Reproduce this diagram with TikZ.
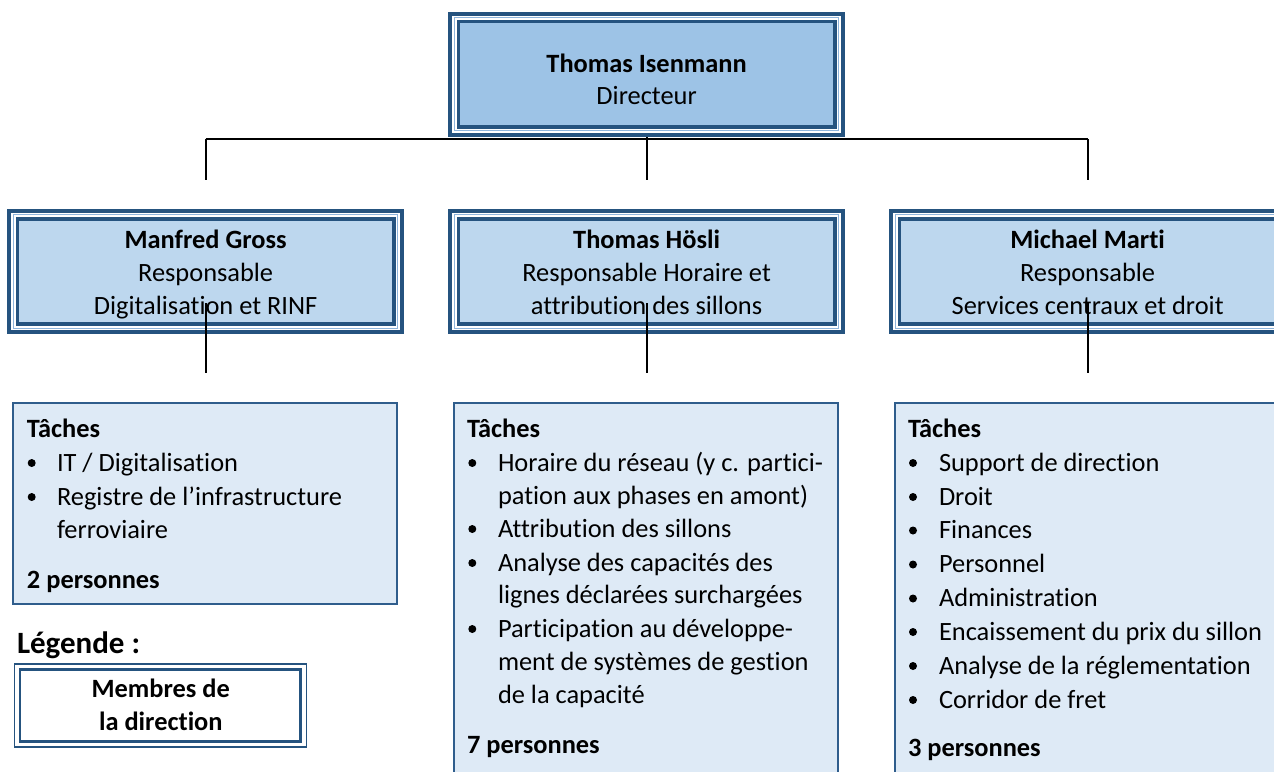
\documentclass[tikz,border=0pt]{standalone}
\usepackage{fontspec}
\setmainfont{Carlito}[Ligatures=NoCommon]
\definecolor{dk}{HTML}{25537F}
\definecolor{dk2}{HTML}{2F5D8C}
\definecolor{topfill}{HTML}{9DC3E6}
\definecolor{midfill}{HTML}{BDD7EE}
\definecolor{taskfill}{HTML}{DEEAF6}
\definecolor{thinlt}{HTML}{8EB4DB}
\tikzset{
  conn/.style={draw=black, line width=2.2pt},
  mbox/.style={rectangle, draw=dk, line width=4pt, fill=white, inner sep=0pt, outer sep=0pt,
    minimum width=392.7pt, minimum height=121.3pt},
  thinline/.style={draw=thinlt, line width=1pt},
  innerband/.style={draw=dk, line width=3.5pt},
  taskbox/.style={rectangle, draw=dk2, line width=2.2pt, fill=taskfill, inner sep=0pt, outer sep=0pt,
    minimum width=384pt},
  legbox/.style={rectangle, draw=dk, line width=1.5pt, fill=white, inner sep=0pt, outer sep=0pt,
    minimum width=292pt, minimum height=83pt},
  ctxt/.style={inner sep=0pt, outer sep=0pt, anchor=base},
  ltxt/.style={inner sep=0pt, outer sep=0pt, anchor=base west},
  bul/.style={circle, fill=black, draw=none, inner sep=0pt, minimum size=8pt},
}
\newcommand\mgrbox[3]{%
  \node[mbox] (#1) at (#2) {};
  \draw[thinline] ([shift={(4.1,4.1)}]#1.north west) rectangle ([shift={(-4.1,-4.1)}]#1.south east);
  \draw[innerband, fill=#3] ([shift={(8,8)}]#1.north west) rectangle ([shift={(-8,-8)}]#1.south east);
}
\begin{document}
\begin{tikzpicture}[x=1pt, y=-1pt, font=\fontsize{26.4}{32}\selectfont]
\useasboundingbox (0,0) rectangle (1274,771);
\clip (0,0) rectangle (1274,771);

% connector coordinates
\coordinate (hline) at (0,139);
\coordinate (vend) at (0,180);
\coordinate (dtop) at (0,303);
\coordinate (dbot) at (0,373);

% boxes
\mgrbox{boss}{646.6,74.35}{topfill}
\mgrbox{m1}{205.65,271.5}{midfill}
\mgrbox{m2}{646.6,271.5}{midfill}
\mgrbox{m3}{1087.6,271.5}{midfill}

% connectors top
\draw[conn] (m1.center |- hline) -- (m3.center |- hline);
\draw[conn] (boss.south) ++(0,2) -- (boss.south |- vend);
\draw[conn] (m1.center |- hline) -- (m1.center |- vend);
\draw[conn] (m3.center |- hline) -- (m3.center |- vend);

% task boxes
\node[taskbox, minimum height=201pt] (t1) at (205,503.5) {};
\node[taskbox, minimum height=400pt] (t2) at (646,603) {};
\node[taskbox, minimum height=400pt] (t3) at (1087,603) {};

% texts top
\node[ctxt] (bossname) at (646.6,72) {\bfseries Thomas Isenmann};
\node[ctxt] (bossrole) at (646.6,104) {Directeur};

\node[ctxt] (m1a) at (205.65,248) {\bfseries Manfred Gross};
\node[ctxt] (m1b) at (205.65,281) {Responsable};
\node[ctxt] (m1c) at (205.65,314) {Digitalisation et RINF};

\node[ctxt] (m2a) at (646.6,248) {\bfseries Thomas Hösli};
\node[ctxt] (m2b) at (646.6,281) {Responsable Horaire et};
\node[ctxt] (m2c) at (646.6,314) {attribution des sillons};

\node[ctxt] (m3a) at (1087.6,248) {\bfseries Michael Marti};
\node[ctxt] (m3b) at (1087.6,281) {Responsable};
\node[ctxt] (m3c) at (1087.6,314) {Services centraux et droit};

% connectors down (drawn over the boxes)
\draw[conn] (m1.center |- dtop) -- (m1.center |- dbot);
\draw[conn] (m2.center |- dtop) -- (m2.center |- dbot);
\draw[conn] (m3.center |- dtop) -- (m3.center |- dbot);

% left task texts
\node[ltxt] (t1h) at (27,437) {\bfseries Tâches};
\node[bul] (t1b1) at (31.7,463) {};
\node[ltxt] (t1l1) at (57,471) {IT / Digitalisation};
\node[bul] (t1b2) at (31.7,497) {};
\node[ltxt] (t1l2) at (57,505) {Registre de l’infrastructure};
\node[ltxt] (t1l3) at (57,538.5) {ferroviaire};
\node[ltxt] (t1p) at (27,588) {\bfseries 2 personnes};

% middle task texts
\node[ltxt] (t2h) at (467,437) {\bfseries Tâches};
\node[bul] (t2b1) at (472.3,463) {};
\node[ltxt] (t2l1) at (498,471) {Horaire du réseau (y c. partici-};
\node[ltxt] (t2l2) at (498,504.3) {pation aux phases en amont)};
\node[bul] (t2b2) at (472.3,529) {};
\node[ltxt] (t2l3) at (498,537) {Attribution des sillons};
\node[bul] (t2b3) at (472.3,563) {};
\node[ltxt] (t2l4) at (498,571) {Analyse des capacités des};
\node[ltxt] (t2l5) at (498,603.5) {lignes déclarées surchargées};
\node[bul] (t2b4) at (472.3,629) {};
\node[ltxt] (t2l6) at (498,637) {Participation au développe-};
\node[ltxt] (t2l7) at (498,670) {ment de systèmes de gestion};
\node[ltxt] (t2l8) at (498,703) {de la capacité};
\node[ltxt] (t2p) at (467,753.3) {\bfseries 7 personnes};

% right task texts
\node[ltxt] (t3h) at (908,437) {\bfseries Tâches};
\node[bul] (t3b1) at (913,463) {};
\node[ltxt] (t3l1) at (939,471) {Support de direction};
\node[bul] (t3b2) at (913,497) {};
\node[ltxt] (t3l2) at (939,505) {Droit};
\node[bul] (t3b3) at (913,530.5) {};
\node[ltxt] (t3l3) at (939,538.5) {Finances};
\node[bul] (t3b4) at (913,564.5) {};
\node[ltxt] (t3l4) at (939,572.5) {Personnel};
\node[bul] (t3b5) at (913,598.5) {};
\node[ltxt] (t3l5) at (939,606.5) {Administration};
\node[bul] (t3b6) at (913,632) {};
\node[ltxt] (t3l6) at (939,640) {Encaissement du prix du sillon};
\node[bul] (t3b7) at (913,666) {};
\node[ltxt] (t3l7) at (939,674) {Analyse de la réglementation};
\node[bul] (t3b8) at (913,700) {};
\node[ltxt] (t3l8) at (939,708) {Corridor de fret};
\node[ltxt] (t3p) at (908,756.7) {\bfseries 3 personnes};

% legend
\node[ltxt, font=\fontsize{31}{36}\selectfont\bfseries] (legtitle) at (17,653) {Légende :};
\node[legbox] (leg) at (160.3,705.5) {};
\draw[draw=dk, line width=2.5pt] ([shift={(5.7,5.5)}]leg.north west) rectangle ([shift={(-5.7,-5.5)}]leg.south east);
\node[ctxt] (leg1) at (160.8,697) {\bfseries Membres de};
\node[ctxt] (leg2) at (160.8,730) {\bfseries la direction};
\end{tikzpicture}
\end{document}
